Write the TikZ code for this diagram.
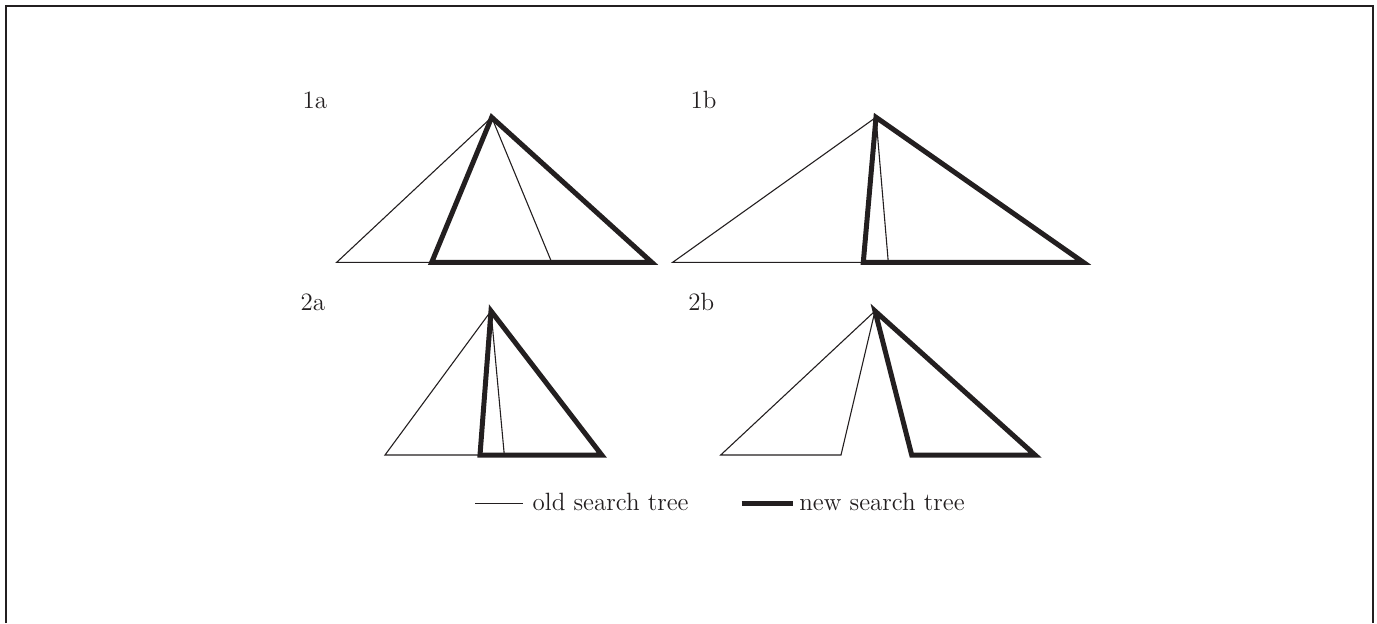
\documentclass[tikz,border=0pt]{standalone}
\definecolor{ink}{RGB}{35,31,32}
\tikzset{
  oldtree/.style={draw=ink, line width=0.55pt, line join=miter},
  newtree/.style={draw=ink, line width=2.5pt, line join=miter, miter limit=10},
  framestyle/.style={draw=ink, line width=1pt},
  lab/.style={anchor=base west, inner sep=0pt, outer sep=0pt, text=ink, font=\fontsize{12.5}{15}\selectfont}
}
\begin{document}
\begin{tikzpicture}[x=0.5pt, y=-0.5pt]
\useasboundingbox (0,0) rectangle (1377,623);
% frame (open at bottom)
\coordinate (fbl) at (6.3,623);
\coordinate (ftl) at (6.3,5.7);
\coordinate (ftr) at (1372.7,5.7);
\coordinate (fbr) at (1372.7,623);
\draw[framestyle] (fbl) -- (ftl) -- (ftr) -- (fbr);

% ---------- 1a ----------
\node[lab] (l1a) at (302.7,108.3) {1a};
\coordinate (a1) at (491.7,117.3);
\coordinate (a1ol) at (336.7,262.3);
\coordinate (a1or) at (551.7,262.3);
\coordinate (a1nl) at (431.7,262.3);
\coordinate (a1nr) at (651.7,262.3);
\draw[oldtree] (a1) -- (a1ol) -- (a1or) -- cycle;
\draw[newtree] (a1) -- (a1nl) -- (a1nr) -- cycle;

% ---------- 1b ----------
\node[lab] (l1b) at (690.7,108.3) {1b};
\coordinate (b1) at (876,117.3);
\coordinate (b1ol) at (672.7,262.3);
\coordinate (b1or) at (888.3,262.3);
\coordinate (b1nl) at (863.3,262.3);
\coordinate (b1nr) at (1083.3,262.3);
\draw[oldtree] (b1) -- (b1ol) -- (b1or) -- cycle;
\draw[newtree] (b1) -- (b1nl) -- (b1nr) -- cycle;

% ---------- 2a ----------
\node[lab] (l2a) at (300.7,310) {2a};
\coordinate (a2) at (491,311);
\coordinate (a2ol) at (385,455);
\coordinate (a2or) at (504.3,455);
\coordinate (a2nl) at (480,455);
\coordinate (a2nr) at (601.7,455);
\draw[oldtree] (a2) -- (a2ol) -- (a2or) -- cycle;
\draw[newtree] (a2) -- (a2nl) -- (a2nr) -- cycle;

% ---------- 2b ----------
\node[lab] (l2b) at (688.3,310) {2b};
\coordinate (b2) at (875,311);
\coordinate (b2ol) at (720.7,455);
\coordinate (b2or) at (841,455);
\coordinate (b2nl) at (911.7,455);
\coordinate (b2nr) at (1035,455);
\draw[oldtree] (b2) -- (b2ol) -- (b2or) -- cycle;
\draw[newtree] (b2) -- (b2nl) -- (b2nr) -- cycle;

% ---------- legend ----------
\coordinate (lo1) at (475,503.3);
\coordinate (lo2) at (523.3,503.3);
\draw[oldtree] (lo1) -- (lo2);
\node[lab] (lot) at (532.7,510.7) {old search tree};
\coordinate (ln1) at (741.7,503.3);
\coordinate (ln2) at (793.3,503.3);
\draw[newtree] (ln1) -- (ln2);
\node[lab] (lnt) at (799.3,510.7) {new search tree};
\end{tikzpicture}
\end{document}
